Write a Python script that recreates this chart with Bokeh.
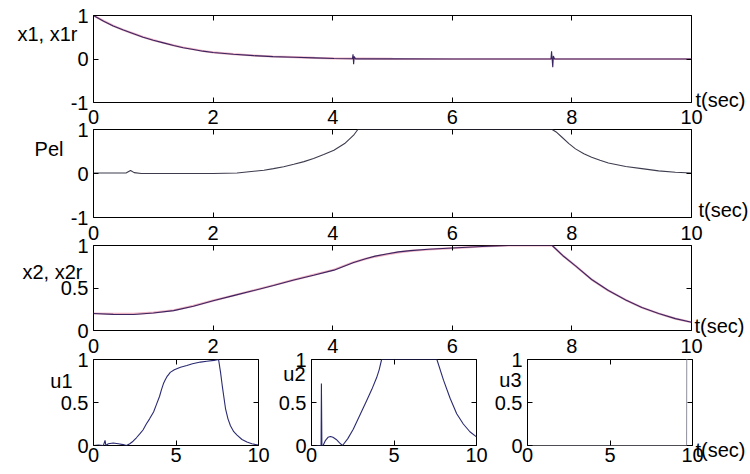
from bokeh.plotting import figure
from bokeh.models import Range1d, LinearAxis, FixedTicker
from bokeh.core.properties import value
from bokeh.embed import file_html
from bokeh.resources import INLINE

W, H = 750, 474
FONT = "Liberation Sans"
FS = "20px"

# ---------------- tick values and labels ----------------
t_ticks_main = [0, 2, 4, 6, 8, 10]
t_labels_main = ["0", "2", "4", "6", "8", "10"]
t_ticks_small = [0, 5, 10]
t_labels_small = ["0", "5", "10"]
y_ticks_pm = [-1, 0, 1]
y_labels_pm = ["-1", "0", "1"]
y_ticks_unit = [0, 0.5, 1]
y_labels_unit = ["0", "0.5", "1"]

# ---------------- x1 and its reference x1r ----------------
t_x1 = [0, 0.17, 0.33, 0.5, 0.67, 0.83, 1.0, 1.17, 1.34, 1.5, 1.67, 1.83, 2.0, 2.34,
        2.68, 3.0, 3.35, 3.7, 4.02, 4.33, 4.34, 4.35, 4.36, 4.38, 5.0, 6.0, 7.0,
        7.65, 7.66, 7.68, 7.69, 7.71, 8.5, 9.0, 10.0]
x1 = [1.0, 0.87, 0.76, 0.665, 0.58, 0.50, 0.43, 0.37, 0.31, 0.26, 0.22, 0.18, 0.15, 0.11,
      0.077, 0.055, 0.04, 0.025, 0.012, 0.006, 0.11, -0.12, 0.06, 0.004, 0.002, 0.0, 0.0,
      0.0, 0.18, -0.19, 0.07, 0.0, 0.0, 0.0, 0.0]
t_x1r = [0, 0.17, 0.33, 0.5, 0.67, 0.83, 1.0, 1.17, 1.34, 1.5, 1.67, 1.83, 2.0, 2.34,
         2.68, 3.0, 3.35, 3.7, 4.02, 5.0, 6.0, 7.0, 8.0, 9.0, 10.0]
x1r = [1.0, 0.872, 0.763, 0.668, 0.584, 0.505, 0.435, 0.374, 0.314, 0.264, 0.224, 0.184,
       0.153, 0.112, 0.08, 0.057, 0.041, 0.026, 0.013, 0.003, 0.0, 0.0, 0.0, 0.0, 0.0]

# ---------------- Pel ----------------
t_pel = [0, 0.3, 0.55, 0.62, 0.68, 0.8, 1.2, 1.6, 2.0, 2.4, 2.68, 2.85, 3.01, 3.18,
         3.35, 3.52, 3.68, 3.85, 4.02, 4.2, 4.35, 4.42, 5.0, 6.0, 7.0, 7.67, 7.75,
         7.83, 7.95, 8.06, 8.2, 8.33, 8.47, 8.61, 8.9, 9.17, 9.45, 9.73, 10.0]
pel = [0.01, 0.01, 0.015, 0.07, 0.02, 0.0, 0.0, 0.0, 0.0, 0.01, 0.05, 0.075, 0.11, 0.155,
       0.21, 0.27, 0.34, 0.43, 0.53, 0.68, 0.87, 1.0, 1.0, 1.0, 1.0, 1.0, 0.93,
       0.83, 0.68, 0.56, 0.45, 0.37, 0.30, 0.24, 0.16, 0.11, 0.06, 0.03, 0.01]

# ---------------- x2 and its reference x2r ----------------
t_x2 = [0, 0.33, 0.67, 1.0, 1.34, 1.67, 2.0, 2.34, 2.68, 3.01, 3.35, 3.68, 4.02,
        4.35, 4.55, 4.71, 4.9, 5.1, 5.3, 5.6, 6.0, 6.5, 6.94, 7.67, 7.85, 8.06,
        8.33, 8.61, 8.9, 9.17, 9.45, 9.73, 10.0]
x2 = [0.20, 0.19, 0.188, 0.205, 0.234, 0.285, 0.35, 0.41, 0.47, 0.53, 0.594, 0.65, 0.71,
      0.80, 0.845, 0.875, 0.90, 0.925, 0.94, 0.955, 0.97, 0.988, 1.0, 1.0, 0.88, 0.76,
      0.60, 0.47, 0.36, 0.27, 0.20, 0.14, 0.097]
x2r = [0.20, 0.197, 0.195, 0.21, 0.238, 0.29, 0.352, 0.412, 0.472, 0.532, 0.596, 0.655, 0.715,
       0.802, 0.842, 0.87, 0.895, 0.92, 0.937, 0.953, 0.97, 0.988, 1.0, 1.0, 0.88, 0.76,
       0.60, 0.47, 0.36, 0.27, 0.20, 0.14, 0.097]

# ---------------- control inputs ----------------
t_u1 = [0, 0.3, 0.6, 0.7, 0.75, 0.9, 1.2, 1.5, 1.8, 2.0, 2.2, 2.4, 2.6, 2.83, 3.0,
        3.2, 3.4, 3.64, 3.8, 4.0, 4.12, 4.24, 4.35, 4.45, 4.55, 4.65, 4.9, 5.27,
        5.66, 6.0, 6.48, 6.87, 7.3, 7.58, 7.7, 7.8, 8.0, 8.15, 8.3, 8.5, 8.7, 9.0,
        9.3, 9.6, 10.0]
u1 = [0.0, 0.005, 0.0, 0.06, 0.0, 0.02, 0.03, 0.02, 0.01, 0.0, 0.02, 0.05, 0.09, 0.14, 0.18,
      0.25, 0.31, 0.39, 0.47, 0.57, 0.65, 0.72, 0.765, 0.80, 0.825, 0.85, 0.88, 0.91,
      0.93, 0.95, 0.97, 0.98, 0.99, 1.0, 0.85, 0.70, 0.43, 0.31, 0.23, 0.16, 0.12, 0.07,
      0.04, 0.02, 0.005]

t_u2 = [0, 0.58, 0.6, 0.63, 0.7, 0.85, 1.0, 1.15, 1.3, 1.5, 1.7, 1.88, 2.2, 2.53,
        2.9, 3.34, 3.65, 3.95, 4.1, 4.25, 7.6, 8.0, 8.4, 8.8, 9.2, 9.6, 10.0]
u2 = [0.0, 0.0, 0.72, 0.0, 0.0, 0.06, 0.095, 0.105, 0.095, 0.07, 0.03, 0.0, 0.08, 0.19,
      0.34, 0.52, 0.65, 0.79, 0.88, 1.0, 1.0, 0.76, 0.55, 0.37, 0.25, 0.16, 0.10]

t_u3 = [0, 9.64, 9.65, 10.0]
u3 = [0.0, 0.0, 1.0, 1.0]

LAYER = {"position": "absolute", "left": "0px", "top": "0px"}


def style_axis(ax, ticks, labels=None, standoff=5):
    ax.ticker = FixedTicker(ticks=ticks)
    ax.axis_line_color = None
    ax.minor_tick_line_color = None
    ax.major_tick_line_color = "black"
    ax.major_tick_in = 5
    ax.major_tick_out = 0
    if labels is None:
        # tick marks only (box sides)
        ax.major_label_text_color = None
        ax.major_label_text_font_size = "1px"
        ax.major_label_standoff = 0
    else:
        ax.major_label_overrides = {t: s for t, s in zip(ticks, labels)}
        ax.major_label_text_font = FONT
        ax.major_label_text_font_size = FS
        ax.major_label_text_color = "black"
        ax.major_label_standoff = standoff


def make_axes(box, y_range, xticks, xlabels, yticks, ylabels, x_standoff):
    """One subplot on a full-window canvas; the box sets where its frame sits."""
    left, right, top, bottom = box
    p = figure(width=W, height=H, output_backend="svg", toolbar_location=None,
               x_range=Range1d(0, 10), y_range=Range1d(*y_range),
               min_border_left=left, min_border_right=W - right,
               min_border_top=top, min_border_bottom=H - bottom,
               styles=LAYER)
    p.background_fill_color = None
    p.border_fill_color = None
    p.outline_line_color = "black"
    p.outline_line_width = 1
    p.xgrid.visible = False
    p.ygrid.visible = False
    style_axis(p.xaxis[0], xticks, xlabels, x_standoff)
    style_axis(p.yaxis[0], yticks, ylabels, 5)
    top_ax = LinearAxis()
    style_axis(top_ax, xticks)
    p.add_layout(top_ax, "above")
    right_ax = LinearAxis()
    style_axis(right_ax, yticks)
    p.add_layout(right_ax, "right")
    return p


# Row 1: x1, x1r
p1 = make_axes((93, 691, 15, 102), (-1, 1), t_ticks_main, t_labels_main,
               y_ticks_pm, y_labels_pm, 7)
p1.line(t_x1r, x1r, line_color="#d8507a", line_width=2.2, line_alpha=0.45)
p1.line(t_x1, x1, line_color="#3a2560", line_width=1.1)

# Row 2: Pel
p2 = make_axes((93, 691, 129, 217), (-1, 1), t_ticks_main, t_labels_main,
               y_ticks_pm, y_labels_pm, 8)
p2.line(t_pel, pel, line_color="#3c3c4e", line_width=1.1)

# Row 3: x2, x2r
p3 = make_axes((93, 691, 245, 330), (0, 1), t_ticks_main, t_labels_main,
               y_ticks_unit, y_labels_unit, 8)
p3.line(t_x2, x2r, line_color="#d8507a", line_width=2.2, line_alpha=0.45)
p3.line(t_x2, x2, line_color="#3a2560", line_width=1.1)

# Row 4: u1, u2, u3
p4 = make_axes((93, 258, 359, 445), (0, 1), t_ticks_small, t_labels_small,
               y_ticks_unit, y_labels_unit, 2)
p4.line(t_u1, u1, line_color="#2a2a72", line_width=1.1)

p5 = make_axes((311, 476, 359, 445), (0, 1), t_ticks_small, t_labels_small,
               y_ticks_unit, y_labels_unit, 2)
p5.line(t_u2, u2, line_color="#2a2a72", line_width=1.1)

p6 = make_axes((527, 692, 359, 445), (0, 1), t_ticks_small, t_labels_small,
               y_ticks_unit, y_labels_unit, 2)
p6.line(t_u3, u3, line_color="#9a9aa6", line_width=1.1)

# Axis names sit outside the subplot frames, so they go on a transparent
# page-sized layer measured in window pixels (y grows downward).
ann = figure(width=W, height=H, output_backend="svg", toolbar_location=None,
             title=None, x_range=Range1d(0, W), y_range=Range1d(H, 0),
             x_axis_location=None, y_axis_location=None, min_border=0,
             styles=LAYER)
ann.background_fill_color = None
ann.border_fill_color = None
ann.outline_line_color = None
ann.xgrid.visible = False
ann.ygrid.visible = False

name_text = ["x1, x1r", "Pel", "x2, x2r", "u1", "u2", "u3"]
ann.text(x=[77, 63, 82, 72, 305, 521], y=[33, 148, 271, 380, 373, 379],
         text=name_text, text_align="right", text_baseline="alphabetic",
         text_font=value(FONT), text_font_size=value(FS), text_color="black")
ann.text(x=[695, 698, 694, 695], y=[99, 209, 325, 449],
         text=["t(sec)"] * 4, text_align="left", text_baseline="alphabetic",
         text_font=value(FONT), text_font_size=value(FS), text_color="black")

figs = [p1, p2, p3, p4, p5, p6, ann]
open("out.html", "w").write(file_html(figs, INLINE))
